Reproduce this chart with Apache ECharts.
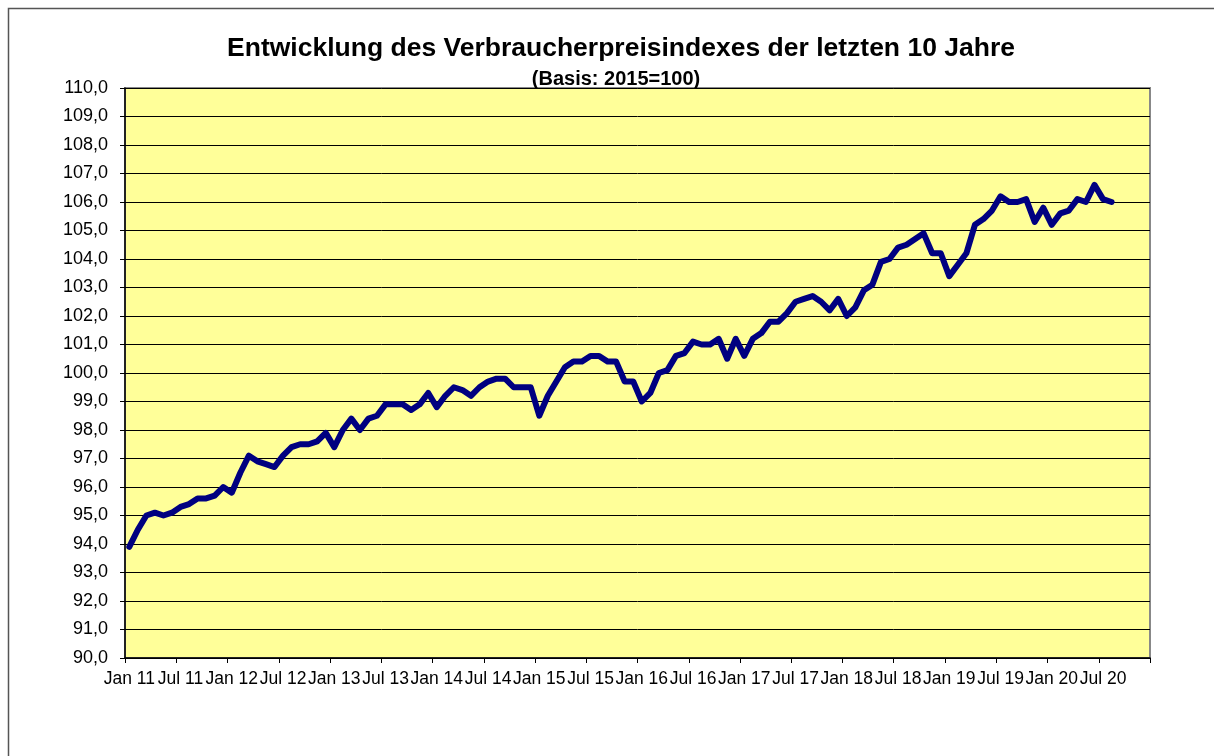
<!DOCTYPE html>
<html>
<head>
<meta charset="utf-8">
<script src="https://cdn.jsdelivr.net/npm/echarts@6/dist/echarts.min.js"></script>
<style>
html,body{margin:0;padding:0;background:#fff;}
#chart{width:1214px;height:756px;}
</style>
</head>
<body>
<div id="chart"></div>
<script>
// Month names and years used for the category labels
const monthNames = ['Jan','Feb','Mär','Apr','Mai','Jun','Jul','Aug','Sep','Okt','Nov','Dez'];
const years = ['11','12','13','14','15','16','17','18','19','20'];

// Verbraucherpreisindex (2015=100), Jan 2011 – Aug 2020
const vpi2011 = [93.9, 94.5, 95.0, 95.1, 95.0, 95.1, 95.3, 95.4, 95.6, 95.6, 95.7, 96.0];
const vpi2012 = [95.8, 96.5, 97.1, 96.9, 96.8, 96.7, 97.1, 97.4, 97.5, 97.5, 97.6, 97.9];
const vpi2013 = [97.4, 98.0, 98.4, 98.0, 98.4, 98.5, 98.9, 98.9, 98.9, 98.7, 98.9, 99.3];
const vpi2014 = [98.8, 99.2, 99.5, 99.4, 99.2, 99.5, 99.7, 99.8, 99.8, 99.5, 99.5, 99.5];
const vpi2015 = [98.5, 99.2, 99.7, 100.2, 100.4, 100.4, 100.6, 100.6, 100.4, 100.4, 99.7, 99.7];
const vpi2016 = [99.0, 99.3, 100.0, 100.1, 100.6, 100.7, 101.1, 101.0, 101.0, 101.2, 100.5, 101.2];
const vpi2017 = [100.6, 101.2, 101.4, 101.8, 101.8, 102.1, 102.5, 102.6, 102.7, 102.5, 102.2, 102.6];
const vpi2018 = [102.0, 102.3, 102.9, 103.1, 103.9, 104.0, 104.4, 104.5, 104.7, 104.9, 104.2, 104.2];
const vpi2019 = [103.4, 103.8, 104.2, 105.2, 105.4, 105.7, 106.2, 106.0, 106.0, 106.1, 105.3, 105.8];
const vpi2020 = [105.2, 105.6, 105.7, 106.1, 106.0, 106.6, 106.1, 106.0];

const yMin = 90, yMax = 110, yStep = 1;

const categories = [];
years.forEach(y => monthNames.forEach(m => categories.push(m + ' ' + y)));
const values = [].concat(vpi2011, vpi2012, vpi2013, vpi2014, vpi2015, vpi2016, vpi2017, vpi2018, vpi2019, vpi2020);

const FONT = '"Liberation Sans", Arial, sans-serif';
const chart = echarts.init(document.getElementById('chart'));
chart.setOption({
  animation: false,
  backgroundColor: '#ffffff',
  title: [
    {
      text: 'Entwicklung des Verbraucherpreisindexes der letzten 10 Jahre',
      left: 616, top: 30, textAlign: 'center',
      textStyle: {fontFamily: FONT, fontSize: 26.5, fontWeight: 'bold', color: '#000'}
    },
    {
      text: '(Basis: 2015=100)',
      left: 611, top: 64, textAlign: 'center',
      textStyle: {fontFamily: FONT, fontSize: 20, fontWeight: 'bold', color: '#000'}
    }
  ],
  graphic: [{
    type: 'rect', silent: true, z: -1,
    shape: {x: 8.5, y: 8.5, width: 1300, height: 900},
    style: {fill: 'none', stroke: '#555', lineWidth: 1.5}
  }],
  grid: {
    left: 125, right: 64, top: 88, bottom: 98,
    show: true, backgroundColor: '#FFFF99', borderColor: '#888', borderWidth: 2
  },
  xAxis: {
    type: 'category',
    data: categories,
    boundaryGap: true,
    axisLine: {show: true, lineStyle: {color: '#000', width: 1.5}},
    axisTick: {show: true, interval: 5, length: 5, lineStyle: {color: '#000'}},
    axisLabel: {interval: 5, margin: 12, fontFamily: FONT, fontSize: 17.5, color: '#000'},
    splitLine: {show: false}
  },
  yAxis: {
    type: 'value',
    min: yMin, max: yMax, interval: yStep,
    axisLine: {show: true, lineStyle: {color: '#000', width: 1.5}},
    axisTick: {show: true, length: 5, lineStyle: {color: '#000'}},
    axisLabel: {margin: 17, fontFamily: FONT, fontSize: 18, color: '#000',
      formatter: v => v.toFixed(1).replace('.', ',')},
    splitLine: {show: true, lineStyle: {color: '#000', width: 1}}
  },
  series: [{
    type: 'line',
    data: values,
    showSymbol: false,
    symbol: 'none',
    lineStyle: {color: '#000080', width: 6, join: 'round', cap: 'round'},
    itemStyle: {color: '#000080'}
  }]
});
</script>
</body>
</html>
